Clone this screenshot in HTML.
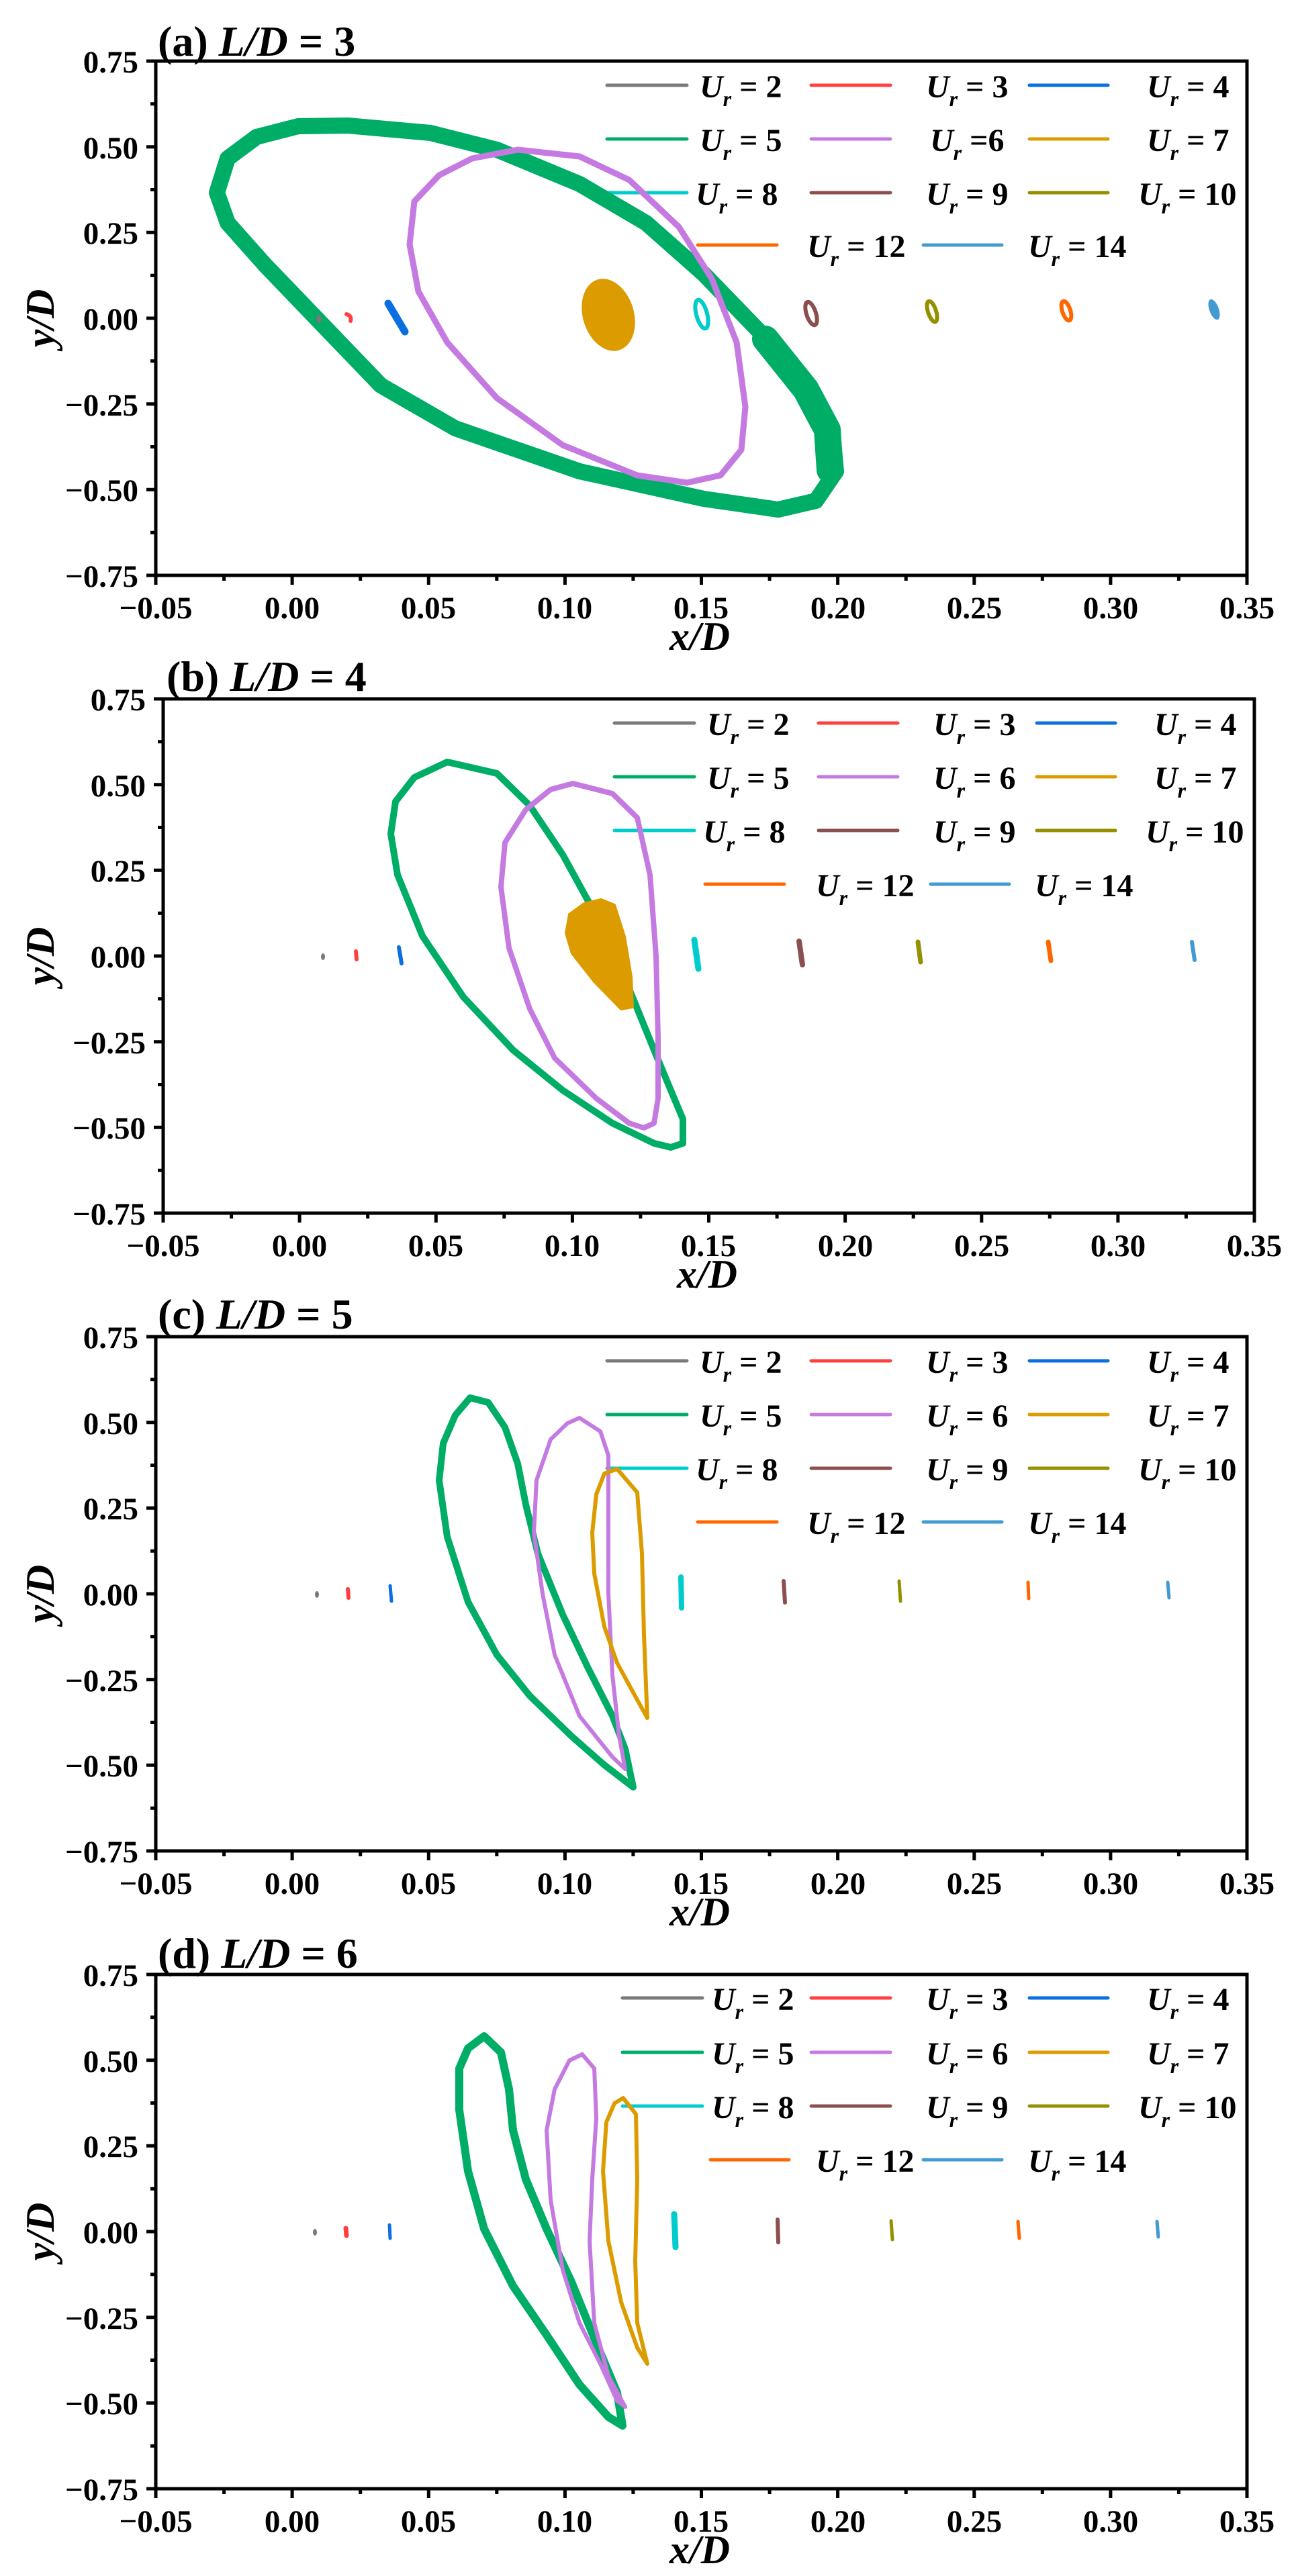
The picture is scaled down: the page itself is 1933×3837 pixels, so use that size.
<!DOCTYPE html>
<html><head><meta charset="utf-8"><style>
html,body{margin:0;padding:0;background:#fff;}
svg{display:block;font-family:"Liberation Serif",serif;font-weight:bold;}
</style></head><body>
<svg width="1933" height="3837" viewBox="0 0 1933 3837" xmlns="http://www.w3.org/2000/svg">
<defs>
<g id="axes">
<rect x="0" y="0" width="1625" height="766" fill="none" stroke="#000" stroke-width="5"/>
<path d="M0 766v14M203.1 766v14M406.3 766v14M609.4 766v14M812.5 766v14M1015.6 766v14M1218.8 766v14M1421.9 766v14M1625 766v14M101.6 766v8M304.7 766v8M507.8 766v8M710.9 766v8M914.1 766v8M1117.2 766v8M1320.3 766v8M1523.4 766v8M0 0h-14M0 127.7h-14M0 255.3h-14M0 383h-14M0 510.7h-14M0 638.3h-14M0 766h-14M0 63.8h-8M0 191.5h-8M0 319.2h-8M0 446.8h-8M0 574.5h-8M0 702.2h-8" stroke="#000" stroke-width="5" fill="none"/>
</g>
</defs>

<!-- ===== Panel a ===== -->
<g transform="translate(232,91)">
<use href="#axes"/>
<g font-size="47" text-anchor="end">
<text x="-26" y="17">0.75</text><text x="-26" y="145">0.50</text><text x="-26" y="272">0.25</text><text x="-26" y="400">0.00</text><text x="-26" y="528">−0.25</text><text x="-26" y="655">−0.50</text><text x="-26" y="783">−0.75</text>
</g>
<g font-size="47" text-anchor="middle">
<text x="0" y="830">−0.05</text><text x="203" y="830">0.00</text><text x="406" y="830">0.05</text><text x="609" y="830">0.10</text><text x="812" y="830">0.15</text><text x="1016" y="830">0.20</text><text x="1219" y="830">0.25</text><text x="1422" y="830">0.30</text><text x="1625" y="830">0.35</text>
</g>
<text x="810" y="877" font-size="60" font-style="italic" text-anchor="middle">x/D</text>
<text transform="translate(-152,383) rotate(-90)" font-size="60" font-style="italic" text-anchor="middle">y/D</text>
<text x="3" y="-8" font-size="64">(a) <tspan font-style="italic">L</tspan><tspan font-style="italic">/D</tspan> = 3</text>
<g stroke-width="5" stroke-linecap="round">
<line x1="672" y1="36" x2="791" y2="36" stroke="#7a7a7a"/><line x1="976" y1="36" x2="1094" y2="36" stroke="#ff4040"/><line x1="1301" y1="36" x2="1418" y2="36" stroke="#0a6fe0"/>
<line x1="672" y1="116" x2="791" y2="116" stroke="#00ad66"/><line x1="976" y1="116" x2="1094" y2="116" stroke="#c47ae0"/><line x1="1301" y1="116" x2="1418" y2="116" stroke="#dc9c00"/>
<line x1="672" y1="196" x2="791" y2="196" stroke="#00cccc"/><line x1="976" y1="196" x2="1094" y2="196" stroke="#8c4f4f"/><line x1="1301" y1="196" x2="1418" y2="196" stroke="#949000"/>
<line x1="807" y1="274" x2="925" y2="274" stroke="#ff6600"/><line x1="1143" y1="274" x2="1260" y2="274" stroke="#419ad2"/>
</g>
<g font-size="48">
<text x="810" y="54"><tspan font-style="italic">U</tspan><tspan font-style="italic" font-size="32" dy="13">r</tspan><tspan dy="-13"> = 2</tspan></text>
<text x="1147" y="54"><tspan font-style="italic">U</tspan><tspan font-style="italic" font-size="32" dy="13">r</tspan><tspan dy="-13"> = 3</tspan></text>
<text x="1476" y="54"><tspan font-style="italic">U</tspan><tspan font-style="italic" font-size="32" dy="13">r</tspan><tspan dy="-13"> = 4</tspan></text>
<text x="810" y="134"><tspan font-style="italic">U</tspan><tspan font-style="italic" font-size="32" dy="13">r</tspan><tspan dy="-13"> = 5</tspan></text>
<text x="1153" y="134"><tspan font-style="italic">U</tspan><tspan font-style="italic" font-size="32" dy="13">r</tspan><tspan dy="-13"> =6</tspan></text>
<text x="1476" y="134"><tspan font-style="italic">U</tspan><tspan font-style="italic" font-size="32" dy="13">r</tspan><tspan dy="-13"> = 7</tspan></text>
<text x="804" y="214"><tspan font-style="italic">U</tspan><tspan font-style="italic" font-size="32" dy="13">r</tspan><tspan dy="-13"> = 8</tspan></text>
<text x="1147" y="214"><tspan font-style="italic">U</tspan><tspan font-style="italic" font-size="32" dy="13">r</tspan><tspan dy="-13"> = 9</tspan></text>
<text x="1463" y="214"><tspan font-style="italic">U</tspan><tspan font-style="italic" font-size="32" dy="13">r</tspan><tspan dy="-13"> = 10</tspan></text>
<text x="970" y="292"><tspan font-style="italic">U</tspan><tspan font-style="italic" font-size="32" dy="13">r</tspan><tspan dy="-13"> = 12</tspan></text>
<text x="1299" y="292"><tspan font-style="italic">U</tspan><tspan font-style="italic" font-size="32" dy="13">r</tspan><tspan dy="-13"> = 14</tspan></text>
</g>
</g>
<g fill="none" stroke-linejoin="round" stroke-linecap="round">
<polygon stroke="#00ad66" stroke-width="24" points="518,187 641,198 740,223 863,274 962,332 1048,408 1134,497 1202,574 1239,638 1245,702 1215,746 1159,759 1048,743 863,702 678,638 567,574 469,472 395,395 339,332 323,287 339,236 382,204 444,188"/>
<polyline stroke="#00ad66" stroke-width="40" points="1140,505 1200,580 1232,640 1236,700"/>
<polygon stroke="#c47ae0" stroke-width="9" points="771,223 863,233 937,268 1011,338 1060,415 1097,510 1110,606 1104,670 1073,708 1023,719 949,708 838,663 740,593 666,510 623,434 610,364 617,300 654,261 703,236"/>
<ellipse cx="906" cy="469" rx="38" ry="55" transform="rotate(-17 906 469)" fill="#dc9c00" stroke="none"/>
<ellipse cx="475" cy="475" rx="4" ry="6" fill="#7a7a7a" stroke="none"/>
<path d="M516 468 q8 2 6 10" stroke="#ff4040" stroke-width="6"/>
<line x1="578" y1="452" x2="603" y2="494" stroke="#0a6fe0" stroke-width="11"/>
<ellipse cx="1045" cy="468" rx="8" ry="22" transform="rotate(-15 1045 468)" stroke="#00cccc" stroke-width="6"/>
<ellipse cx="1208" cy="467" rx="7" ry="18" transform="rotate(-18 1208 467)" stroke="#8c4f4f" stroke-width="6"/>
<ellipse cx="1388" cy="464" rx="6" ry="16" transform="rotate(-18 1388 464)" stroke="#949000" stroke-width="6"/>
<ellipse cx="1588" cy="463" rx="6" ry="15" transform="rotate(-18 1588 463)" stroke="#ff6600" stroke-width="6"/>
<ellipse cx="1808" cy="461" rx="7" ry="16" transform="rotate(-20 1808 461)" fill="#419ad2" stroke="none"/>
</g>

<!-- ===== Panel b ===== -->
<g transform="translate(243,1041)">
<use href="#axes"/>
<g font-size="47" text-anchor="end">
<text x="-26" y="17">0.75</text><text x="-26" y="145">0.50</text><text x="-26" y="272">0.25</text><text x="-26" y="400">0.00</text><text x="-26" y="528">−0.25</text><text x="-26" y="655">−0.50</text><text x="-26" y="783">−0.75</text>
</g>
<g font-size="47" text-anchor="middle">
<text x="0" y="830">−0.05</text><text x="203" y="830">0.00</text><text x="406" y="830">0.05</text><text x="609" y="830">0.10</text><text x="812" y="830">0.15</text><text x="1016" y="830">0.20</text><text x="1219" y="830">0.25</text><text x="1422" y="830">0.30</text><text x="1625" y="830">0.35</text>
</g>
<text x="810" y="877" font-size="60" font-style="italic" text-anchor="middle">x/D</text>
<text transform="translate(-163,383) rotate(-90)" font-size="60" font-style="italic" text-anchor="middle">y/D</text>
<text x="5" y="-12" font-size="64">(b) <tspan font-style="italic">L</tspan><tspan font-style="italic">/D</tspan> = 4</text>
<g stroke-width="5" stroke-linecap="round">
<line x1="672" y1="36" x2="791" y2="36" stroke="#7a7a7a"/><line x1="976" y1="36" x2="1094" y2="36" stroke="#ff4040"/><line x1="1301" y1="36" x2="1418" y2="36" stroke="#0a6fe0"/>
<line x1="672" y1="116" x2="791" y2="116" stroke="#00ad66"/><line x1="976" y1="116" x2="1094" y2="116" stroke="#c47ae0"/><line x1="1301" y1="116" x2="1418" y2="116" stroke="#dc9c00"/>
<line x1="672" y1="196" x2="791" y2="196" stroke="#00cccc"/><line x1="976" y1="196" x2="1094" y2="196" stroke="#8c4f4f"/><line x1="1301" y1="196" x2="1418" y2="196" stroke="#949000"/>
<line x1="807" y1="276" x2="925" y2="276" stroke="#ff6600"/><line x1="1143" y1="276" x2="1260" y2="276" stroke="#419ad2"/>
</g>
<g font-size="48">
<text x="810" y="54"><tspan font-style="italic">U</tspan><tspan font-style="italic" font-size="32" dy="13">r</tspan><tspan dy="-13"> = 2</tspan></text>
<text x="1147" y="54"><tspan font-style="italic">U</tspan><tspan font-style="italic" font-size="32" dy="13">r</tspan><tspan dy="-13"> = 3</tspan></text>
<text x="1476" y="54"><tspan font-style="italic">U</tspan><tspan font-style="italic" font-size="32" dy="13">r</tspan><tspan dy="-13"> = 4</tspan></text>
<text x="810" y="134"><tspan font-style="italic">U</tspan><tspan font-style="italic" font-size="32" dy="13">r</tspan><tspan dy="-13"> = 5</tspan></text>
<text x="1147" y="134"><tspan font-style="italic">U</tspan><tspan font-style="italic" font-size="32" dy="13">r</tspan><tspan dy="-13"> = 6</tspan></text>
<text x="1476" y="134"><tspan font-style="italic">U</tspan><tspan font-style="italic" font-size="32" dy="13">r</tspan><tspan dy="-13"> = 7</tspan></text>
<text x="804" y="214"><tspan font-style="italic">U</tspan><tspan font-style="italic" font-size="32" dy="13">r</tspan><tspan dy="-13"> = 8</tspan></text>
<text x="1147" y="214"><tspan font-style="italic">U</tspan><tspan font-style="italic" font-size="32" dy="13">r</tspan><tspan dy="-13"> = 9</tspan></text>
<text x="1463" y="214"><tspan font-style="italic">U</tspan><tspan font-style="italic" font-size="32" dy="13">r</tspan><tspan dy="-13"> = 10</tspan></text>
<text x="972" y="294"><tspan font-style="italic">U</tspan><tspan font-style="italic" font-size="32" dy="13">r</tspan><tspan dy="-13"> = 12</tspan></text>
<text x="1298" y="294"><tspan font-style="italic">U</tspan><tspan font-style="italic" font-size="32" dy="13">r</tspan><tspan dy="-13"> = 14</tspan></text>
</g>
</g>
<g fill="none" stroke-linejoin="round" stroke-linecap="round">
<polygon stroke="#00ad66" stroke-width="10" points="666,1135 740,1152 789,1200 838,1273 888,1364 937,1473 974,1564 999,1624 1017,1667 1017,1703 999,1709 974,1703 912,1673 838,1624 764,1564 690,1485 629,1394 592,1303 582,1242 589,1194 617,1158"/>
<polygon stroke="#c47ae0" stroke-width="8" points="853,1167 912,1182 949,1218 968,1303 977,1424 980,1545 980,1636 974,1673 959,1680 937,1673 888,1636 826,1576 789,1503 758,1412 746,1321 752,1255 783,1206 820,1176"/>
<polygon fill="#dc9c00" stroke="#dc9c00" stroke-width="4" points="895,1340 915,1348 930,1395 940,1455 942,1500 925,1503 885,1462 852,1420 843,1390 848,1362 870,1346"/>
<ellipse cx="481" cy="1425" rx="3" ry="5" fill="#7a7a7a" stroke="none"/>
<line x1="530" y1="1417" x2="531" y2="1429" stroke="#ff4040" stroke-width="6"/>
<line x1="594" y1="1411" x2="598" y2="1435" stroke="#0a6fe0" stroke-width="6"/>
<line x1="1034" y1="1400" x2="1040" y2="1443" stroke="#00cccc" stroke-width="9"/>
<line x1="1190" y1="1402" x2="1195" y2="1437" stroke="#8c4f4f" stroke-width="8"/>
<line x1="1367" y1="1403" x2="1371" y2="1433" stroke="#949000" stroke-width="7"/>
<line x1="1561" y1="1403" x2="1565" y2="1431" stroke="#ff6600" stroke-width="7"/>
<line x1="1775" y1="1403" x2="1779" y2="1430" stroke="#419ad2" stroke-width="6"/>
</g>

<!-- ===== Panel c ===== -->
<g transform="translate(232,1991)">
<use href="#axes"/>
<g font-size="47" text-anchor="end">
<text x="-26" y="17">0.75</text><text x="-26" y="145">0.50</text><text x="-26" y="272">0.25</text><text x="-26" y="400">0.00</text><text x="-26" y="528">−0.25</text><text x="-26" y="655">−0.50</text><text x="-26" y="783">−0.75</text>
</g>
<g font-size="47" text-anchor="middle">
<text x="0" y="830">−0.05</text><text x="203" y="830">0.00</text><text x="406" y="830">0.05</text><text x="609" y="830">0.10</text><text x="812" y="830">0.15</text><text x="1016" y="830">0.20</text><text x="1219" y="830">0.25</text><text x="1422" y="830">0.30</text><text x="1625" y="830">0.35</text>
</g>
<text x="810" y="877" font-size="60" font-style="italic" text-anchor="middle">x/D</text>
<text transform="translate(-152,383) rotate(-90)" font-size="60" font-style="italic" text-anchor="middle">y/D</text>
<text x="3" y="-12" font-size="64">(c) <tspan font-style="italic">L</tspan><tspan font-style="italic">/D</tspan> = 5</text>
<g stroke-width="5" stroke-linecap="round">
<line x1="672" y1="36" x2="791" y2="36" stroke="#7a7a7a"/><line x1="976" y1="36" x2="1094" y2="36" stroke="#ff4040"/><line x1="1301" y1="36" x2="1418" y2="36" stroke="#0a6fe0"/>
<line x1="672" y1="116" x2="791" y2="116" stroke="#00ad66"/><line x1="976" y1="116" x2="1094" y2="116" stroke="#c47ae0"/><line x1="1301" y1="116" x2="1418" y2="116" stroke="#dc9c00"/>
<line x1="672" y1="196" x2="791" y2="196" stroke="#00cccc"/><line x1="976" y1="196" x2="1094" y2="196" stroke="#8c4f4f"/><line x1="1301" y1="196" x2="1418" y2="196" stroke="#949000"/>
<line x1="807" y1="276" x2="925" y2="276" stroke="#ff6600"/><line x1="1143" y1="276" x2="1260" y2="276" stroke="#419ad2"/>
</g>
<g font-size="48">
<text x="810" y="54"><tspan font-style="italic">U</tspan><tspan font-style="italic" font-size="32" dy="13">r</tspan><tspan dy="-13"> = 2</tspan></text>
<text x="1147" y="54"><tspan font-style="italic">U</tspan><tspan font-style="italic" font-size="32" dy="13">r</tspan><tspan dy="-13"> = 3</tspan></text>
<text x="1476" y="54"><tspan font-style="italic">U</tspan><tspan font-style="italic" font-size="32" dy="13">r</tspan><tspan dy="-13"> = 4</tspan></text>
<text x="810" y="134"><tspan font-style="italic">U</tspan><tspan font-style="italic" font-size="32" dy="13">r</tspan><tspan dy="-13"> = 5</tspan></text>
<text x="1147" y="134"><tspan font-style="italic">U</tspan><tspan font-style="italic" font-size="32" dy="13">r</tspan><tspan dy="-13"> = 6</tspan></text>
<text x="1476" y="134"><tspan font-style="italic">U</tspan><tspan font-style="italic" font-size="32" dy="13">r</tspan><tspan dy="-13"> = 7</tspan></text>
<text x="804" y="214"><tspan font-style="italic">U</tspan><tspan font-style="italic" font-size="32" dy="13">r</tspan><tspan dy="-13"> = 8</tspan></text>
<text x="1147" y="214"><tspan font-style="italic">U</tspan><tspan font-style="italic" font-size="32" dy="13">r</tspan><tspan dy="-13"> = 9</tspan></text>
<text x="1463" y="214"><tspan font-style="italic">U</tspan><tspan font-style="italic" font-size="32" dy="13">r</tspan><tspan dy="-13"> = 10</tspan></text>
<text x="970" y="294"><tspan font-style="italic">U</tspan><tspan font-style="italic" font-size="32" dy="13">r</tspan><tspan dy="-13"> = 12</tspan></text>
<text x="1299" y="294"><tspan font-style="italic">U</tspan><tspan font-style="italic" font-size="32" dy="13">r</tspan><tspan dy="-13"> = 14</tspan></text>
</g>
</g>
<g fill="none" stroke-linejoin="round" stroke-linecap="round">
<polygon stroke="#00ad66" stroke-width="10" points="700,2082 727,2089 752,2126 771,2180 783,2241 801,2314 838,2405 875,2483 912,2556 931,2605 943,2662 900,2629 851,2586 789,2526 740,2465 697,2386 666,2289 654,2205 660,2150 678,2108"/>
<polygon stroke="#c47ae0" stroke-width="6" points="863,2112 894,2132 906,2168 906,2253 906,2374 912,2495 922,2586 931,2635 912,2617 863,2556 826,2465 808,2374 795,2283 799,2205 820,2144 845,2120"/>
<polygon stroke="#dc9c00" stroke-width="6" points="919,2188 949,2223 956,2314 959,2435 964,2559 949,2532 919,2477 900,2423 885,2344 882,2283 888,2226 900,2195"/>
<ellipse cx="472" cy="2375" rx="3" ry="5" fill="#7a7a7a" stroke="none"/>
<line x1="518" y1="2367" x2="519" y2="2380" stroke="#ff4040" stroke-width="6"/>
<line x1="581" y1="2362" x2="583" y2="2385" stroke="#0a6fe0" stroke-width="5"/>
<line x1="1014" y1="2349" x2="1015" y2="2395" stroke="#00cccc" stroke-width="8"/>
<line x1="1167" y1="2355" x2="1169" y2="2387" stroke="#8c4f4f" stroke-width="6"/>
<line x1="1339" y1="2355" x2="1341" y2="2385" stroke="#949000" stroke-width="5"/>
<line x1="1531" y1="2357" x2="1532" y2="2381" stroke="#ff6600" stroke-width="5"/>
<line x1="1739" y1="2357" x2="1741" y2="2380" stroke="#419ad2" stroke-width="5"/>
</g>

<!-- ===== Panel d ===== -->
<g transform="translate(232,2941)">
<use href="#axes"/>
<g font-size="47" text-anchor="end">
<text x="-26" y="17">0.75</text><text x="-26" y="145">0.50</text><text x="-26" y="272">0.25</text><text x="-26" y="400">0.00</text><text x="-26" y="528">−0.25</text><text x="-26" y="655">−0.50</text><text x="-26" y="783">−0.75</text>
</g>
<g font-size="47" text-anchor="middle">
<text x="0" y="830">−0.05</text><text x="203" y="830">0.00</text><text x="406" y="830">0.05</text><text x="609" y="830">0.10</text><text x="812" y="830">0.15</text><text x="1016" y="830">0.20</text><text x="1219" y="830">0.25</text><text x="1422" y="830">0.30</text><text x="1625" y="830">0.35</text>
</g>
<text x="810" y="877" font-size="60" font-style="italic" text-anchor="middle">x/D</text>
<text transform="translate(-152,383) rotate(-90)" font-size="60" font-style="italic" text-anchor="middle">y/D</text>
<text x="3" y="-10" font-size="64">(d) <tspan font-style="italic">L</tspan><tspan font-style="italic">/D</tspan> = 6</text>
<g stroke-width="5" stroke-linecap="round">
<line x1="695" y1="35" x2="814" y2="35" stroke="#7a7a7a"/><line x1="976" y1="35" x2="1094" y2="35" stroke="#ff4040"/><line x1="1301" y1="35" x2="1418" y2="35" stroke="#0a6fe0"/>
<line x1="695" y1="116" x2="814" y2="116" stroke="#00ad66"/><line x1="976" y1="116" x2="1094" y2="116" stroke="#c47ae0"/><line x1="1301" y1="116" x2="1418" y2="116" stroke="#dc9c00"/>
<line x1="695" y1="196" x2="814" y2="196" stroke="#00cccc"/><line x1="976" y1="196" x2="1094" y2="196" stroke="#8c4f4f"/><line x1="1301" y1="196" x2="1418" y2="196" stroke="#949000"/>
<line x1="826" y1="276" x2="943" y2="276" stroke="#ff6600"/><line x1="1143" y1="276" x2="1260" y2="276" stroke="#419ad2"/>
</g>
<g font-size="48">
<text x="828" y="53"><tspan font-style="italic">U</tspan><tspan font-style="italic" font-size="32" dy="13">r</tspan><tspan dy="-13"> = 2</tspan></text>
<text x="1147" y="53"><tspan font-style="italic">U</tspan><tspan font-style="italic" font-size="32" dy="13">r</tspan><tspan dy="-13"> = 3</tspan></text>
<text x="1476" y="53"><tspan font-style="italic">U</tspan><tspan font-style="italic" font-size="32" dy="13">r</tspan><tspan dy="-13"> = 4</tspan></text>
<text x="828" y="134"><tspan font-style="italic">U</tspan><tspan font-style="italic" font-size="32" dy="13">r</tspan><tspan dy="-13"> = 5</tspan></text>
<text x="1147" y="134"><tspan font-style="italic">U</tspan><tspan font-style="italic" font-size="32" dy="13">r</tspan><tspan dy="-13"> = 6</tspan></text>
<text x="1476" y="134"><tspan font-style="italic">U</tspan><tspan font-style="italic" font-size="32" dy="13">r</tspan><tspan dy="-13"> = 7</tspan></text>
<text x="828" y="214"><tspan font-style="italic">U</tspan><tspan font-style="italic" font-size="32" dy="13">r</tspan><tspan dy="-13"> = 8</tspan></text>
<text x="1147" y="214"><tspan font-style="italic">U</tspan><tspan font-style="italic" font-size="32" dy="13">r</tspan><tspan dy="-13"> = 9</tspan></text>
<text x="1463" y="214"><tspan font-style="italic">U</tspan><tspan font-style="italic" font-size="32" dy="13">r</tspan><tspan dy="-13"> = 10</tspan></text>
<text x="983" y="294"><tspan font-style="italic">U</tspan><tspan font-style="italic" font-size="32" dy="13">r</tspan><tspan dy="-13"> = 12</tspan></text>
<text x="1299" y="294"><tspan font-style="italic">U</tspan><tspan font-style="italic" font-size="32" dy="13">r</tspan><tspan dy="-13"> = 14</tspan></text>
</g>
</g>
<g fill="none" stroke-linejoin="round" stroke-linecap="round">
<polygon stroke="#00ad66" stroke-width="12" points="721,3033 746,3057 758,3112 764,3173 783,3246 814,3320 851,3399 888,3490 919,3564 927,3613 906,3600 863,3552 814,3478 764,3405 721,3320 697,3234 684,3143 684,3081 697,3051"/>
<polygon stroke="#c47ae0" stroke-width="6" points="867,3060 885,3081 888,3155 882,3246 878,3338 885,3460 906,3539 931,3585 919,3576 894,3521 863,3460 838,3381 820,3277 814,3173 826,3112 848,3069"/>
<polygon stroke="#dc9c00" stroke-width="6" points="928,3125 947,3149 949,3246 946,3368 949,3460 964,3521 949,3497 925,3429 906,3338 898,3234 903,3161 915,3133"/>
<ellipse cx="469" cy="3325" rx="3" ry="5" fill="#7a7a7a" stroke="none"/>
<line x1="515" y1="3319" x2="516" y2="3330" stroke="#ff4040" stroke-width="7"/>
<line x1="580" y1="3314" x2="581" y2="3334" stroke="#0a6fe0" stroke-width="5"/>
<line x1="1004" y1="3298" x2="1006" y2="3347" stroke="#00cccc" stroke-width="9"/>
<line x1="1158" y1="3306" x2="1159" y2="3340" stroke="#8c4f4f" stroke-width="6"/>
<line x1="1327" y1="3308" x2="1329" y2="3336" stroke="#949000" stroke-width="5"/>
<line x1="1516" y1="3309" x2="1518" y2="3334" stroke="#ff6600" stroke-width="5"/>
<line x1="1723" y1="3309" x2="1725" y2="3332" stroke="#419ad2" stroke-width="5"/>
</g>
</svg>
</body></html>
